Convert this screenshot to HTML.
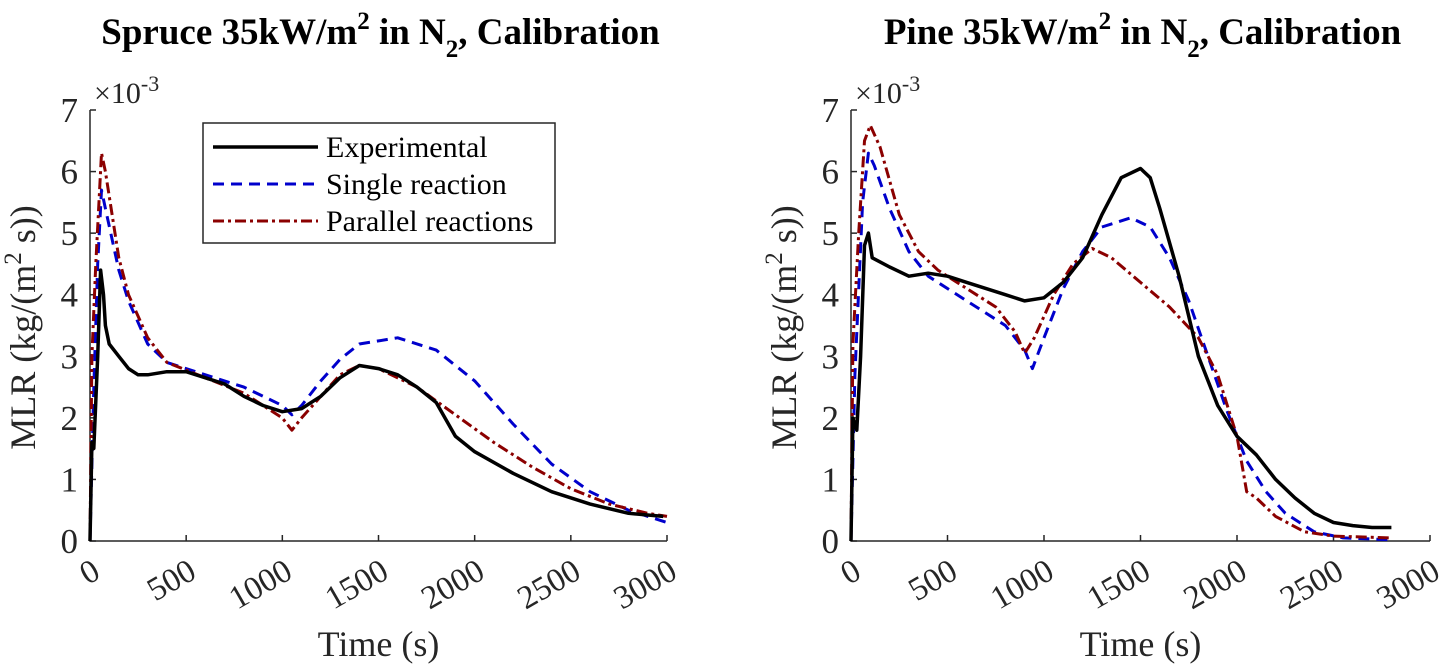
<!DOCTYPE html>
<html><head><meta charset="utf-8"><style>
html,body{margin:0;padding:0;background:#fff;}
svg{display:block;}
svg text{font-family:"Liberation Serif","DejaVu Serif",serif;}
</style></head><body>
<svg id="chart" width="1440" height="670" viewBox="0 0 1440 670"></svg>
<script>
const ticksX = [0,500,1000,1500,2000,2500,3000];
const ticksY = [0,1,2,3,4,5,6,7];
const leftExpT = [0,10,20,40,55,70,80,100,150,200,250,300,400,500,600,700,800,900,1000,1100,1200,1300,1400,1500,1600,1700,1800,1900,2000,2200,2400,2600,2800,2980];
const leftExpV = [0,1.6,1.5,3,4.4,4.0,3.5,3.2,3.0,2.8,2.7,2.7,2.75,2.75,2.65,2.55,2.35,2.2,2.1,2.15,2.35,2.65,2.85,2.8,2.7,2.5,2.25,1.7,1.45,1.1,0.8,0.6,0.45,0.4];
const leftSinT = [0,20,40,60,80,150,200,300,400,600,800,1000,1050,1100,1200,1300,1400,1600,1800,2000,2200,2400,2600,2800,3000];
const leftSinV = [0,2.5,4.5,5.7,5.4,4.4,3.9,3.2,2.9,2.7,2.5,2.2,2.05,2.2,2.6,2.95,3.2,3.3,3.1,2.6,1.9,1.25,0.8,0.5,0.3];
const leftParT = [0,10,30,60,80,150,200,300,400,600,800,1000,1050,1100,1200,1300,1400,1500,1700,1900,2100,2300,2500,2700,2900,3000];
const leftParV = [0,3,4.5,6.3,6.0,4.6,4.0,3.3,2.9,2.65,2.4,2.0,1.8,2.0,2.35,2.7,2.85,2.8,2.5,2.05,1.6,1.2,0.85,0.6,0.45,0.4];
const rightExpT = [0,10,30,50,70,90,110,200,300,400,500,600,700,800,900,1000,1100,1200,1300,1400,1500,1550,1600,1700,1800,1900,2000,2100,2200,2300,2400,2500,2600,2700,2800];
const rightExpV = [0,2,1.8,3,4.8,5.0,4.6,4.45,4.3,4.35,4.3,4.2,4.1,4.0,3.9,3.95,4.2,4.6,5.3,5.9,6.05,5.9,5.4,4.3,3.0,2.2,1.7,1.4,1.0,0.7,0.45,0.3,0.25,0.22,0.22];
const rightSinT = [0,20,60,90,120,200,300,400,600,800,900,940,1000,1100,1200,1300,1450,1550,1650,1750,1850,1950,2050,2150,2250,2400,2550,2800];
const rightSinV = [0,2.7,5.5,6.3,6.1,5.4,4.7,4.3,3.9,3.5,3.1,2.8,3.3,4.1,4.7,5.1,5.25,5.1,4.6,3.9,3.0,2.1,1.3,0.8,0.45,0.15,0.05,0.02];
const rightParT = [0,10,40,70,100,150,250,350,450,600,750,850,900,950,1050,1150,1250,1350,1500,1650,1800,1900,2000,2050,2100,2200,2350,2500,2800];
const rightParV = [0,3.2,5,6.5,6.75,6.4,5.3,4.7,4.4,4.1,3.8,3.4,3.05,3.3,4.0,4.5,4.75,4.6,4.2,3.8,3.3,2.7,1.7,0.8,0.7,0.4,0.15,0.08,0.05];

const NS="http://www.w3.org/2000/svg";
const svg=document.getElementById('chart');
const FF='"Liberation Serif","DejaVu Serif",serif';
function mk(tag,attrs,parent){const e=document.createElementNS(NS,tag);for(const k in attrs)e.setAttribute(k,attrs[k]);if(tag==='text')e.style.fontFamily=FF;(parent||svg).appendChild(e);return e;}

function panel(cfg){
  const g=mk('g',{});
  
  
  const x0=cfg.x0,x1=cfg.x1,y0=541,y1=110;
  const sx=v=>x0+(v/3000)*(x1-x0);
  const sy=v=>y0-(v/7)*(y0-y1);
  const ax=mk('path',{d:`M${x0},${y1}L${x0},${y0}L${x1},${y0}`,fill:'none',stroke:'#262626','stroke-width':1.5},g);
  
  
  ticksX.forEach(t=>{
    mk('line',{x1:sx(t),x2:sx(t),y1:y0,y2:y0-6,stroke:'#262626','stroke-width':1.5},g);
    const tx=mk('text',{x:sx(t)+12,y:y0+36,'font-size':33,fill:'#262626','text-anchor':'end',transform:`rotate(-30 ${sx(t)+12} ${y0+36})`},g);
    tx.textContent=t;
    
    
  });
  ticksY.forEach(t=>{
    mk('line',{x1:x0,x2:x0+6,y1:sy(t),y2:sy(t),stroke:'#262626','stroke-width':1.5},g);
    const ty=mk('text',{x:x0-12,y:sy(t)+12,'font-size':35,fill:'#262626','text-anchor':'end'},g);
    ty.textContent=t;
    
    
  });
  const ex=mk('text',{x:x0+4,y:103,'font-size':30,fill:'#262626'},g);
  ex.innerHTML='×10<tspan dy="-12" font-size="22">-3</tspan>';
  
  
  const yl=mk('text',{x:0,y:0,'font-size':36,fill:'#262626','text-anchor':'middle',transform:`translate(${x0-55},${(y0+y1)/2+2}) rotate(-90)`},g);
  yl.innerHTML='MLR (kg/(m<tspan dy="-14" font-size="25">2</tspan><tspan dy="14"> s))</tspan>';
  
  
  const xl=mk('text',{x:(x0+x1)/2,y:656,'font-size':36,fill:'#262626','text-anchor':'middle'},g);
  xl.textContent='Time (s)';
  
  
  const tt=mk('text',{x:(x0+x1)/2+2,y:44,'font-size':37,'font-weight':'bold',fill:'#000','text-anchor':'middle'},g);
  tt.innerHTML=cfg.title+' 35kW/m<tspan dy="-15" font-size="25">2</tspan><tspan dy="15"> in N</tspan><tspan dy="13" font-size="25">2</tspan><tspan dy="-13">, Calibration</tspan>';
  
  
  const series=[
    [cfg.sT,cfg.sV,'#0000cc','11,7',3,'single-reaction-line'],
    [cfg.pT,cfg.pV,'#8b0000','11,4,3,4',3,'parallel-reactions-line'],
    [cfg.eT,cfg.eV,'#000','none',3.5,'experimental-line']
  ];
  series.forEach(s=>{
    const d=s[0].map((t,i)=>(i?'L':'M')+sx(t).toFixed(1)+','+sy(s[1][i]).toFixed(1)).join('');
    const p=mk('path',{d:d,fill:'none',stroke:s[2],'stroke-width':s[4],'stroke-dasharray':s[3],'stroke-linejoin':'round'},g);
    
    
  });
}
panel({name:'spruce-panel',title:'Spruce',x0:90,x1:667,eT:leftExpT,eV:leftExpV,sT:leftSinT,sV:leftSinV,pT:leftParT,pV:leftParV});
panel({name:'pine-panel',title:'Pine',x0:851,x1:1430,eT:rightExpT,eV:rightExpV,sT:rightSinT,sV:rightSinV,pT:rightParT,pV:rightParV});

const lg=mk('g',{});


mk('rect',{x:203,y:123,width:352,height:120,fill:'#fff',stroke:'#262626','stroke-width':1.5},lg);
const entries=[['Experimental','#000','none',3.5],['Single reaction','#0000cc','11,7',3],['Parallel reactions','#8b0000','11,4,3,4',3]];
entries.forEach((e,i)=>{
  const y=147+i*37;
  mk('line',{x1:213,x2:318,y1:y,y2:y,stroke:e[1],'stroke-width':e[3],'stroke-dasharray':e[2]},lg);
  const t=mk('text',{x:326,y:y+10,'font-size':30,fill:'#000'},lg);
  t.textContent=e[0];
  
  
});
</script>
</body></html>
